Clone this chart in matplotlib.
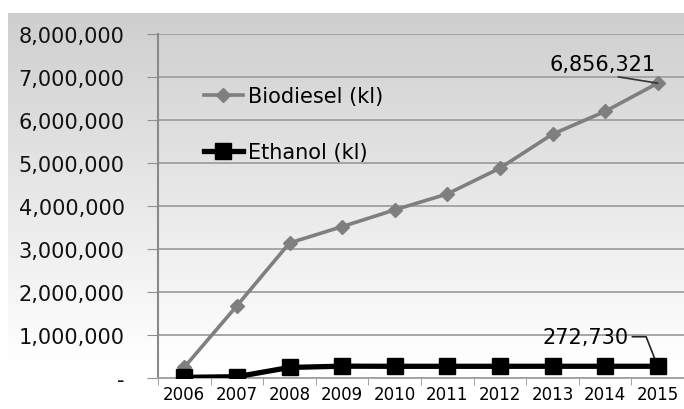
import numpy as np
import matplotlib.pyplot as plt
from matplotlib.ticker import FuncFormatter

years = ["2006", "2007", "2008", "2009", "2010", "2011", "2012", "2013", "2014", "2015"]
biodiesel = [250000, 1680000, 3140000, 3520000, 3910000, 4280000, 4880000, 5670000, 6200000, 6856321]
ethanol = [15000, 30000, 245000, 275000, 272000, 272000, 272000, 272500, 272600, 272730]

W, H = 684, 410
plt.rcParams['font.family'] = ['DejaVu Sans']
fig = plt.figure(figsize=(W / 100, H / 100), dpi=100)

# grey-to-white gradient behind the whole chart area
bg = fig.add_axes([8 / W, 0, 1 - 8 / W, 1 - 14 / H], zorder=0)
grad = np.concatenate([np.linspace(0.81, 1.0, 300), np.ones(40)])
bg.imshow(np.tile(grad[:, None, None], (1, 2, 3)), aspect='auto',
          extent=[0, 1, 0, 1], origin='upper')
bg.axis('off')

ax = fig.add_axes([158 / W, 1 - 379 / H, 1 - 158 / W, (379 - 35) / H], zorder=1)
ax.patch.set_alpha(0)

x = np.arange(len(years))
ax.plot(x, biodiesel, color='#7f7f7f', lw=2.6, marker='D', ms=7,
        label='Biodiesel (kl)', zorder=3)
ax.plot(x, ethanol, color='black', lw=3.8, marker='s', ms=11,
        label='Ethanol (kl)', zorder=4)

ax.set_ylim(0, 8000000)
ax.set_yticks(np.arange(0, 8000001, 1000000))
ax.yaxis.set_major_formatter(FuncFormatter(lambda v, p: '-' if v == 0 else f'{int(v):,}'))
ax.set_xlim(-0.5, 9.46)
ax.set_xticks(x)
ax.set_xticklabels(years)
ax.set_xticks(np.arange(-0.5, 9.6, 1), minor=True)
ax.tick_params(axis='x', which='major', length=0, pad=5, labelsize=12)
ax.tick_params(axis='x', which='minor', length=5, color='#909090', direction='out')
ax.tick_params(axis='y', length=8, color='#909090', pad=16, labelsize=15, labelcolor='#111111')
ax.grid(axis='y', color='#a0a0a0', lw=1.3)
for s in ['top', 'right']:
    ax.spines[s].set_visible(False)
ax.spines['left'].set_color('#8a8a8a')
ax.spines['left'].set_linewidth(1.5)
ax.spines['bottom'].set_color('#a0a0a0')
ax.spines['bottom'].set_linewidth(1.3)
ax.set_axisbelow(True)

ax.legend(loc='center left', bbox_to_anchor=(0.051, 0.738), frameon=False,
          fontsize=15, labelspacing=1.75, handlelength=1.9, handletextpad=0.25)

# value callouts with leader lines
ax.annotate(f'{biodiesel[-1]:,}', xy=(x[-1], biodiesel[-1]), xytext=(7.96, 7300000),
            ha='center', va='center', fontsize=15,
            arrowprops=dict(arrowstyle='-', color='#333333', lw=1.2,
                            shrinkA=0, shrinkB=0, relpos=(0.48, 0)))
ax.plot([8.52, 8.78, x[-1]], [960000, 960000, ethanol[-1]], color='#222222', lw=1.2, zorder=2)
ax.text(8.45, 960000, f'{ethanol[-1]:,}', ha='right', va='center', fontsize=15)

fig.savefig('out.png', dpi=100)
